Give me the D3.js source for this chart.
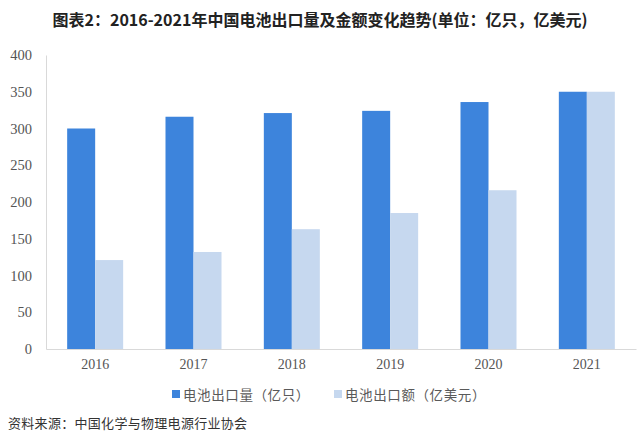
<!DOCTYPE html>
<html><head><meta charset="utf-8">
<script src="https://cdn.jsdelivr.net/npm/d3@7"></script>
<style>body{margin:0;background:#fff}svg{display:block}</style>
</head><body>
<svg id="c" width="640" height="444"></svg>
<script>
const years = ["2016","2017","2018","2019","2020","2021"];
const volume = [300, 316, 321, 324, 336, 350];   // 电池出口量（亿只）
const amount = [121, 132, 163, 185, 216, 350];   // 电池出口额（亿美元）
const yTicks = [0,50,100,150,200,250,300,350,400];
const seriesNames = ["电池出口量（亿只）","电池出口额（亿美元）"];
const title = "图表2：2016-2021年中国电池出口量及金额变化趋势(单位：亿只，亿美元)";
const source = "资料来源：中国化学与物理电源行业协会";

const colors = ["#3d84dc","#c6d8ef"];
const svg = d3.select("#c");
const m = {l:46, r:636, t:55, b:349};

const x = d3.scaleBand().domain(years).range([m.l, m.r]).paddingInner(0).paddingOuter(0);
const x1 = d3.scaleBand().domain([0,1]).range([0, 56]);
const y = d3.scaleLinear().domain([0,400]).range([m.b, m.t]);

svg.append("text").attr("x",320).attr("y",26).attr("text-anchor","middle")
  .attr("font-family","'Noto Sans CJK SC'").attr("font-weight","bold").attr("font-size",16)
  .attr("fill","#222").text(title);

// y axis
const ya = svg.append("g").attr("transform",`translate(${m.l},0)`)
  .call(d3.axisLeft(y).tickValues(yTicks).tickSize(0).tickPadding(14));
ya.select(".domain").attr("stroke","#d9d9d9");
ya.selectAll("text").attr("font-family","'Liberation Serif'").attr("font-size",14.5).attr("fill","#555");

// x axis
const xa = svg.append("g").attr("transform",`translate(0,${m.b})`)
  .call(d3.axisBottom(x).tickSize(0).tickPadding(10));
xa.select(".domain").attr("stroke","#d9d9d9");
xa.selectAll("text").attr("font-family","'Liberation Serif'").attr("font-size",14).attr("fill","#555");

const series = [volume, amount];
series.forEach((vals,si)=>{
  svg.append("g").selectAll("rect").data(vals).join("rect")
    .attr("x",(d,i)=>x(years[i]) + (x.bandwidth()-56)/2 + x1(si))
    .attr("width",x1.bandwidth())
    .attr("y",d=>y(d)).attr("height",d=>y(0)-y(d))
    .attr("fill",colors[si]);
});

// legend
const leg = [{x:172},{x:334}];
seriesNames.forEach((n,i)=>{
  svg.append("rect").attr("x",leg[i].x).attr("y",390).attr("width",8).attr("height",8).attr("fill",colors[i]);
  svg.append("text").attr("x",leg[i].x+11).attr("y",399.5)
    .attr("font-family","'Noto Sans CJK SC'").attr("font-size",13.5).attr("letter-spacing",0.6).attr("fill","#595959").text(n);
});

svg.append("text").attr("x",8).attr("y",428)
  .attr("font-family","'Noto Sans CJK SC'").attr("font-size",13).attr("letter-spacing",0.3).attr("fill","#333").text(source);
</script>
</body></html>
